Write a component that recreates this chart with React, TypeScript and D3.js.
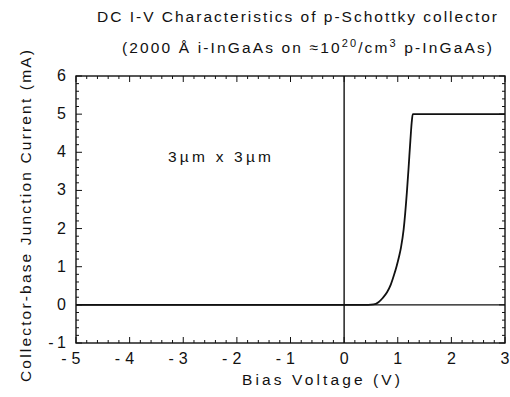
import React from "react";
import * as d3 from "d3";

const biasVoltage = [-5, 0.45, 0.55, 0.64, 0.72, 0.8, 0.87, 0.93, 0.98, 1.02, 1.06, 1.11, 1.17, 1.2, 1.235, 1.26, 1.28, 3.0];
const currentMA = [0, 0, 0.01, 0.07, 0.18, 0.33, 0.53, 0.78, 1.02, 1.24, 1.5, 1.98, 2.95, 3.55, 4.3, 4.78, 5.0, 5.0];
const xTickValues = [-5, -4, -3, -2, -1, 0, 1, 2, 3];
const yTickValues = [-1, 0, 1, 2, 3, 4, 5, 6];
const titleText = "DC I-V Characteristics of p-Schottky collector";
const xLabel = "Bias Voltage (V)";
const yLabel = "Collector-base Junction Current (mA)";
const annotation = "3\u00b5m x 3\u00b5m";

const W = 510, H = 397;
const L = 76, R = 505, T = 76, B = 343;
const FONT = "'Liberation Sans', Arial, Helvetica, sans-serif";

export default function App() {
  const x = d3.scaleLinear().domain([-5, 3]).range([L, R]);
  const y = d3.scaleLinear().domain([-1, 6]).range([B, T]);
  const minorX = d3.range(-5, 3.0001, 0.2).map((v) => +v.toFixed(2));
  const minorY = d3.range(-1, 6.0001, 0.2).map((v) => +v.toFixed(2));
  const isMajor = (v: number) => Math.abs(v - Math.round(v)) < 1e-6;
  const pts = biasVoltage.map((v, i) => [v, currentMA[i]] as [number, number]);
  const line = d3.line<[number, number]>().x((d) => x(d[0])).y((d) => y(d[1])).curve(d3.curveMonotoneX);
  const stroke = "#111";

  return (
    <svg width={W} height={H} style={{ position: "absolute", left: 0, top: 0, background: "#fff" }} fontFamily={FONT}>
      <rect x={0} y={0} width={W} height={H} fill="#fff" />
      {/* Titles */}
      <text x={297} y={22} fontSize={15.5} textAnchor="middle" textLength={400} lengthAdjust="spacing" fill={stroke}>
        {titleText}
      </text>
      <text x={307} y={53} fontSize={15.5} textAnchor="middle" fill={stroke} textLength={370} lengthAdjust="spacing">
        <tspan>(2000 Å i-InGaAs on ≈10</tspan>
        <tspan dy={-6} fontSize={11}>20</tspan>
        <tspan dy={6}>/cm</tspan>
        <tspan dy={-6} fontSize={11}>3</tspan>
        <tspan dy={6}> p-InGaAs)</tspan>
      </text>
      {/* Frame */}
      <rect x={L} y={T} width={R - L} height={B - T} fill="none" stroke={stroke} strokeWidth={1.4} />
      {/* Ticks */}
      {minorX.map((v) => {
        const len = isMajor(v) ? 6 : 3;
        return (
          <g key={"tx" + v}>
            <line x1={x(v)} x2={x(v)} y1={B} y2={B - len} stroke={stroke} strokeWidth={1} />
            <line x1={x(v)} x2={x(v)} y1={T} y2={T + len} stroke={stroke} strokeWidth={1} />
          </g>
        );
      })}
      {minorY.map((v) => {
        const len = isMajor(v) ? 6 : 3;
        return (
          <g key={"ty" + v}>
            <line x1={L} x2={L + len} y1={y(v)} y2={y(v)} stroke={stroke} strokeWidth={1} />
            <line x1={R} x2={R - len} y1={y(v)} y2={y(v)} stroke={stroke} strokeWidth={1} />
          </g>
        );
      })}
      {/* zero lines */}
      <line x1={L} x2={R} y1={y(0)} y2={y(0)} stroke={stroke} strokeWidth={1.2} />
      <line x1={x(0)} x2={x(0)} y1={T} y2={B} stroke={stroke} strokeWidth={1.4} />
      {/* curve */}
      <path d={line(pts) || ""} fill="none" stroke={stroke} strokeWidth={1.8} />
      {/* x tick labels */}
      {xTickValues.map((v) => (
        <g key={"xl" + v}>
          <text x={x(v)} y={364} fontSize={16} textAnchor="middle" fill={stroke}>{Math.abs(v)}</text>
          {v < 0 && <text x={x(v) - 9.5} y={364} fontSize={16} textAnchor="end" fill={stroke}>-</text>}
        </g>
      ))}
      {/* y tick labels */}
      {yTickValues.map((v) => (
        <g key={"yl" + v}>
          <text x={66} y={y(v) + 5} fontSize={16} textAnchor="end" fill={stroke}>{Math.abs(v)}</text>
          {v < 0 && <text x={53.5} y={y(v) + 5} fontSize={16} textAnchor="end" fill={stroke}>-</text>}
        </g>
      ))}
      {/* axis labels */}
      <text x={321} y={385} fontSize={15.5} textAnchor="middle" textLength={158} lengthAdjust="spacing" fill={stroke}>{xLabel}</text>
      <text transform={`translate(31,216) rotate(-90)`} fontSize={15.5} textAnchor="middle" textLength={332} lengthAdjust="spacing" fill={stroke}>{yLabel}</text>
      {/* annotation */}
      <text x={168} y={162} fontSize={15.5} textLength={103} lengthAdjust="spacing" fill={stroke}>{annotation}</text>
    </svg>
  );
}
